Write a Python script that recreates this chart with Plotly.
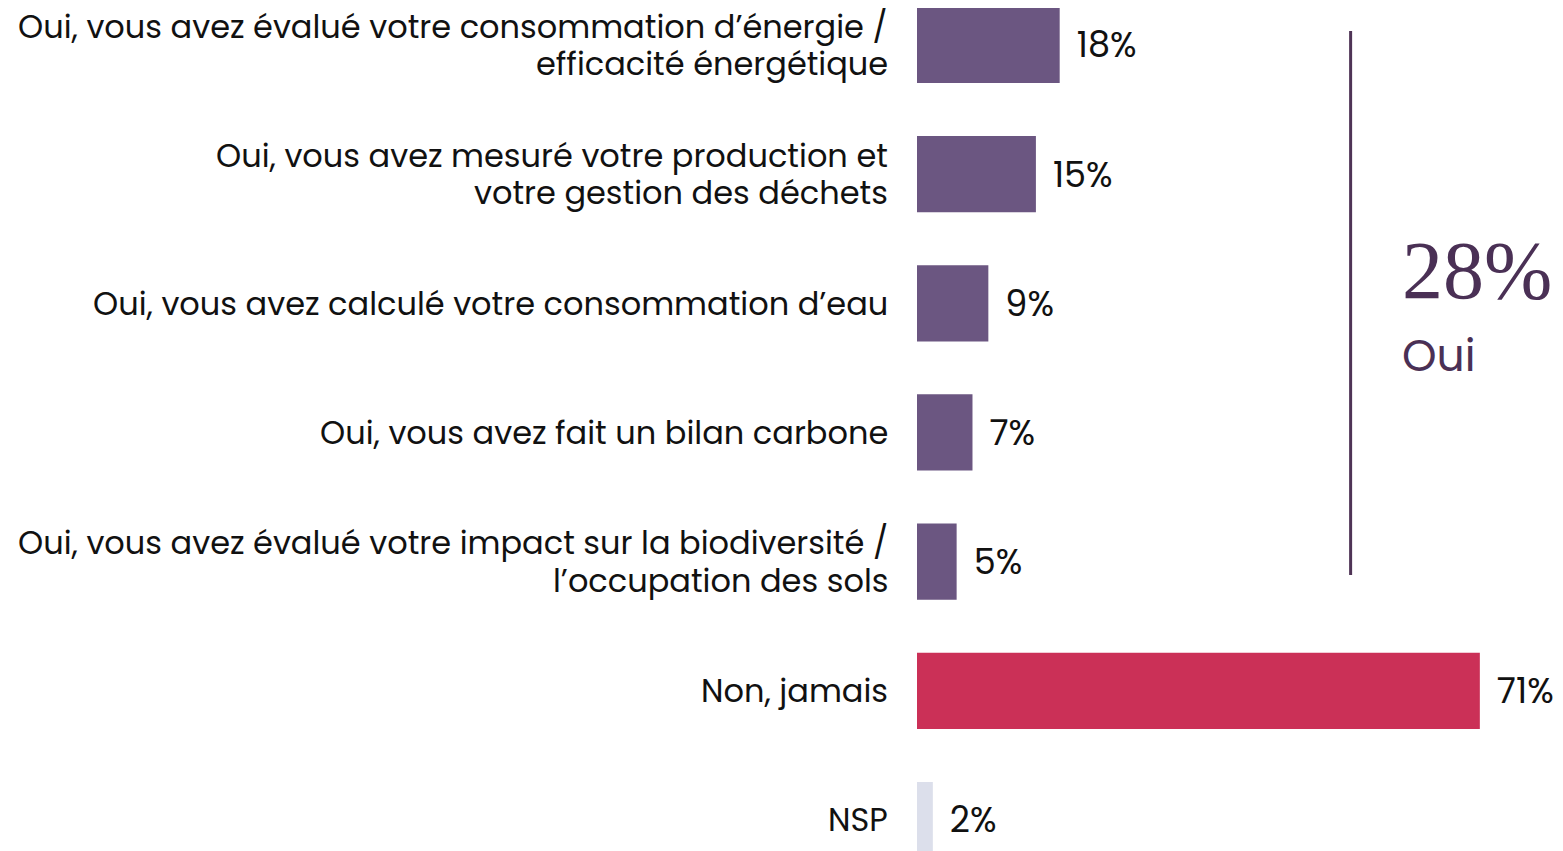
import plotly.graph_objects as go

categories = [
    "Oui, vous avez évalué votre consommation d’énergie /<br>efficacité énergétique",
    "Oui, vous avez mesuré votre production et<br>votre gestion des déchets",
    "Oui, vous avez calculé votre consommation d’eau",
    "Oui, vous avez fait un bilan carbone",
    "Oui, vous avez évalué votre impact sur la biodiversité /<br>l’occupation des sols",
    "Non, jamais",
    "NSP",
]
values = [18, 15, 9, 7, 5, 71, 2]
bar_colors = ["#6b5681"] * 5 + ["#cb3057", "#dcdfeb"]
total_oui = "28%"

font_main = "Poppins, Open Sans, sans-serif"

fig = go.Figure(go.Bar(
    x=values,
    y=categories,
    orientation="h",
    marker=dict(color=bar_colors, line=dict(width=0)),
    width=0.59,
    text=[f"\u2009\u2009{v}%" for v in values],
    textposition="outside",
    textfont=dict(family=font_main, size=35, color="#111111"),
    cliponaxis=False,
))

fig.update_yaxes(
    categoryorder="array",
    categoryarray=categories,
    range=[6.302, -0.286],
    automargin=False,
    showgrid=False,
    showline=False,
    zeroline=False,
    ticks="",
    showticklabels=False,
)
fig.update_xaxes(range=[0, 82.5], visible=False, automargin=False)

# category labels, one annotation per line for tighter line spacing
line_gap = 37.5
for cat in categories:
    lines = cat.split("<br>")
    n = len(lines)
    for i, txt in enumerate(lines):
        fig.add_annotation(text=txt, xref="paper", yref="y", x=0, y=cat,
                           xanchor="right", yanchor="middle", xshift=-27,
                           yshift=((n - 1) / 2 - i) * line_gap, showarrow=False,
                           font=dict(family=font_main, size=32, color="#111111"))

# bracket for the "Oui" group
fig.add_shape(type="line", xref="x", yref="paper", x0=54.7, x1=54.7, y0=0.3337, y1=0.973,
              line=dict(color="#4f3456", width=3))
fig.add_annotation(text=total_oui, xref="x", yref="paper", x=60.9, y=0.692, xanchor="left", yanchor="middle",
                   showarrow=False, font=dict(family="Liberation Serif, serif", size=82, color="#4a3055"))
fig.add_annotation(text="Oui", xref="x", yref="paper", x=60.9, y=0.592, xanchor="left", yanchor="middle",
                   showarrow=False, font=dict(family=font_main, size=44, color="#4a3055"))

fig.update_layout(
    width=1563,
    height=851,
    margin=dict(l=909, r=0, t=0, b=0),
    paper_bgcolor="white",
    plot_bgcolor="white",
    showlegend=False,
)

fig.write_html("out.html")
